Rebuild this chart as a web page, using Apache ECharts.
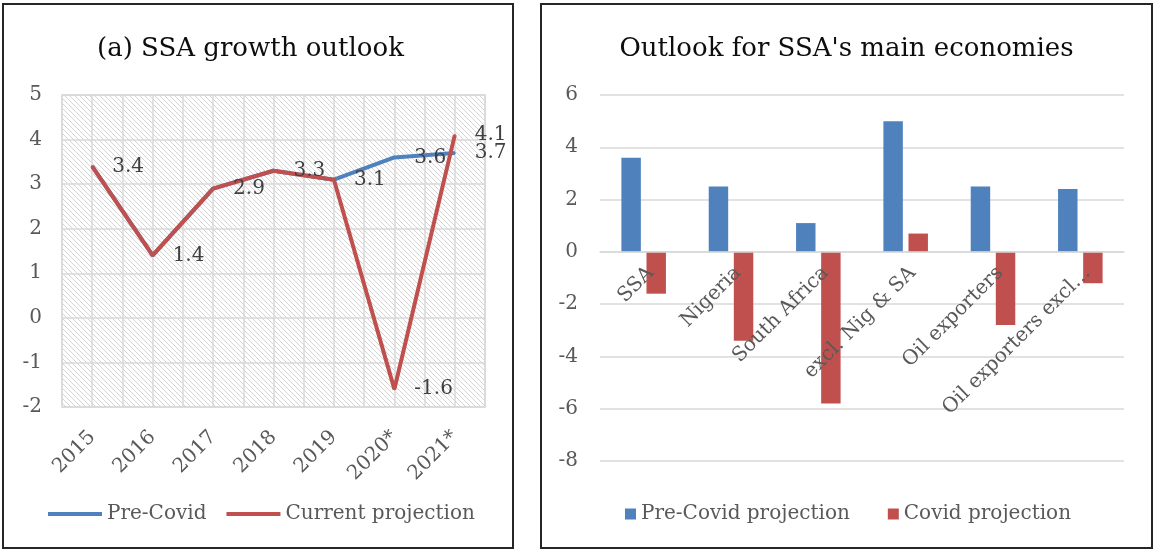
<!DOCTYPE html>
<html>
<head>
<meta charset="utf-8">
<script src="https://cdn.jsdelivr.net/npm/echarts@6/dist/echarts.min.js"></script>
<style>
	body { margin: 0; background: #fff; }
	.box { position: absolute; top: 3px; height: 546px; box-sizing: border-box; border: 2px solid #262626; background: #fff; }
	#left { left: 2px; width: 512px; }
	#right { left: 540px; width: 613px; }
</style>
</head>
<body>
<div id="left" class="box"></div>
<div id="right" class="box"></div>
<script>
// (a) SSA growth outlook
var years = [ '2015', '2016', '2017', '2018', '2019', '2020*', '2021*' ];
var preCovid = [ 3.4, 1.4, 2.9, 3.3, 3.1, 3.6, 3.7 ];
var current = [ 3.4, 1.4, 2.9, 3.3, 3.1, -1.6, 4.1 ];

// Outlook for SSA's main economies
var economies = [ 'SSA', 'Nigeria', 'South Africa', 'excl. Nig & SA', 'Oil exporters', 'Oil exporters excl…' ];
var preCovidProj = [ 3.6, 2.5, 1.1, 5.0, 2.5, 2.4 ];
var covidProj = [ -1.6, -3.4, -5.8, 0.7, -2.8, -1.2 ];

var font = 'DejaVu Serif';
var blue = '#4F81BD', red = '#C0504D';
var gridGrey = '#d9d9d9';

// hatched background like the excel plot area
function hatch() {
	var s = 5;
	var c = document.createElement('canvas');
	c.width = s;
	c.height = s;
	var g = c.getContext('2d');
	g.strokeStyle = '#d4d4d4';
	g.lineWidth = 1;
	g.beginPath();
	g.moveTo(-1, -1); g.lineTo(s + 1, s + 1);
	g.moveTo(-1, s - 1); g.lineTo(1, s + 1);
	g.moveTo(s - 1, -1); g.lineTo(s + 1, 1);
	g.stroke();
	return c;
}

var lineLabel = { show : true, position : 'right', distance : 19, fontFamily : font, fontSize : 20, color : '#404040' };

var option = {
	animation : false,
	title : {
		text : '(a) SSA growth outlook',
		left : 88,
		top : 26,
		textStyle : { fontFamily : font, fontSize : 26, fontWeight : 'normal', color : '#0d0d0d' }
	},
	legend : {
		left : 44,
		top : 499,
		padding : 0,
		icon : 'rect',
		itemWidth : 54,
		itemHeight : 4,
		itemGap : 20,
		textStyle : { fontFamily : font, fontSize : 20, color : '#595959' },
		data : [ 'Pre-Covid', 'Current projection' ]
	},
	grid : {
		left : 58,
		top : 90,
		width : 423,
		height : 312,
		show : true,
		backgroundColor : { image : hatch(), repeat : 'repeat' },
		borderColor : gridGrey,
		borderWidth : 1.5
	},
	xAxis : [ {
		type : 'category',
		data : years,
		boundaryGap : true,
		axisLine : { show : false },
		axisTick : { show : false },
		splitLine : { show : false },
		axisLabel : { rotate : 45, margin : 27, fontFamily : font, fontSize : 20, color : '#595959' }
	}, {
		// half-category vertical gridlines
		type : 'value',
		min : 0,
		max : years.length * 2,
		interval : 1,
		axisLine : { show : false },
		axisTick : { show : false },
		axisLabel : { show : false },
		splitLine : { show : true, lineStyle : { color : gridGrey, width : 1.5 } }
	} ],
	yAxis : {
		type : 'value',
		min : -2,
		max : 5,
		interval : 1,
		axisLine : { show : false },
		axisTick : { show : false },
		axisLabel : { margin : 20, fontFamily : font, fontSize : 20, color : '#595959' },
		splitLine : { lineStyle : { color : gridGrey, width : 1.5 } }
	},
	series : [ {
		name : 'Pre-Covid',
		type : 'line',
		xAxisIndex : 0,
		symbol : 'circle',
		symbolSize : 2,
		data : preCovid,
		itemStyle : { color : blue },
		lineStyle : { color : blue, width : 4 },
		label : Object.assign({}, lineLabel, {
			formatter : function(p) {
				return preCovid[p.dataIndex] !== current[p.dataIndex] ? p.value : '';
			}
		})
	}, {
		name : 'Current projection',
		type : 'line',
		xAxisIndex : 0,
		symbol : 'circle',
		symbolSize : 2,
		data : current,
		itemStyle : { color : red },
		lineStyle : { color : red, width : 4 },
		label : lineLabel
	} ]
};

var yMin2 = -8, yMax2 = 6, gridH2 = 366;

var option2 = {
	animation : false,
	title : {
		text : "Outlook for SSA's main economies",
		left : 'center',
		top : 26,
		textStyle : { fontFamily : font, fontSize : 26, fontWeight : 'normal', color : '#0d0d0d' }
	},
	legend : {
		left : 83,
		top : 499,
		padding : 0,
		icon : 'rect',
		itemWidth : 11,
		itemHeight : 11,
		itemGap : 38,
		textStyle : { fontFamily : font, fontSize : 20, color : '#595959' },
		data : [ 'Pre-Covid projection', 'Covid projection' ]
	},
	grid : {
		left : 58,
		top : 90,
		width : 524,
		height : gridH2
	},
	xAxis : {
		type : 'category',
		data : economies,
		z : 3, // labels over the bars, as in excel
		// sit the category axis on the zero line
		offset : -gridH2 * (0 - yMin2) / (yMax2 - yMin2),
		axisLine : { show : true, onZero : false, lineStyle : { color : gridGrey, width : 1.5 } },
		axisTick : { show : false },
		axisLabel : { rotate : 45, margin : 11, interval : 0, verticalAlign : 'top', fontFamily : font, fontSize : 20, color : '#595959' }
	},
	yAxis : {
		type : 'value',
		min : yMin2,
		max : yMax2,
		interval : 2,
		axisLine : { show : false },
		axisTick : { show : false },
		axisLabel : { margin : 22, fontFamily : font, fontSize : 20, color : '#595959' },
		splitLine : { lineStyle : { color : gridGrey, width : 1.5 } }
	},
	series : [ {
		name : 'Pre-Covid projection',
		type : 'bar',
		data : preCovidProj,
		barGap : '29%',
		barCategoryGap : '49%',
		itemStyle : { color : blue }
	}, {
		name : 'Covid projection',
		type : 'bar',
		data : covidProj,
		itemStyle : { color : red }
	} ]
};

var myChart = echarts.init(document.getElementById('left'));
myChart.setOption(option);
var myChart2 = echarts.init(document.getElementById('right'));
myChart2.setOption(option2);
</script>
</body>
</html>
